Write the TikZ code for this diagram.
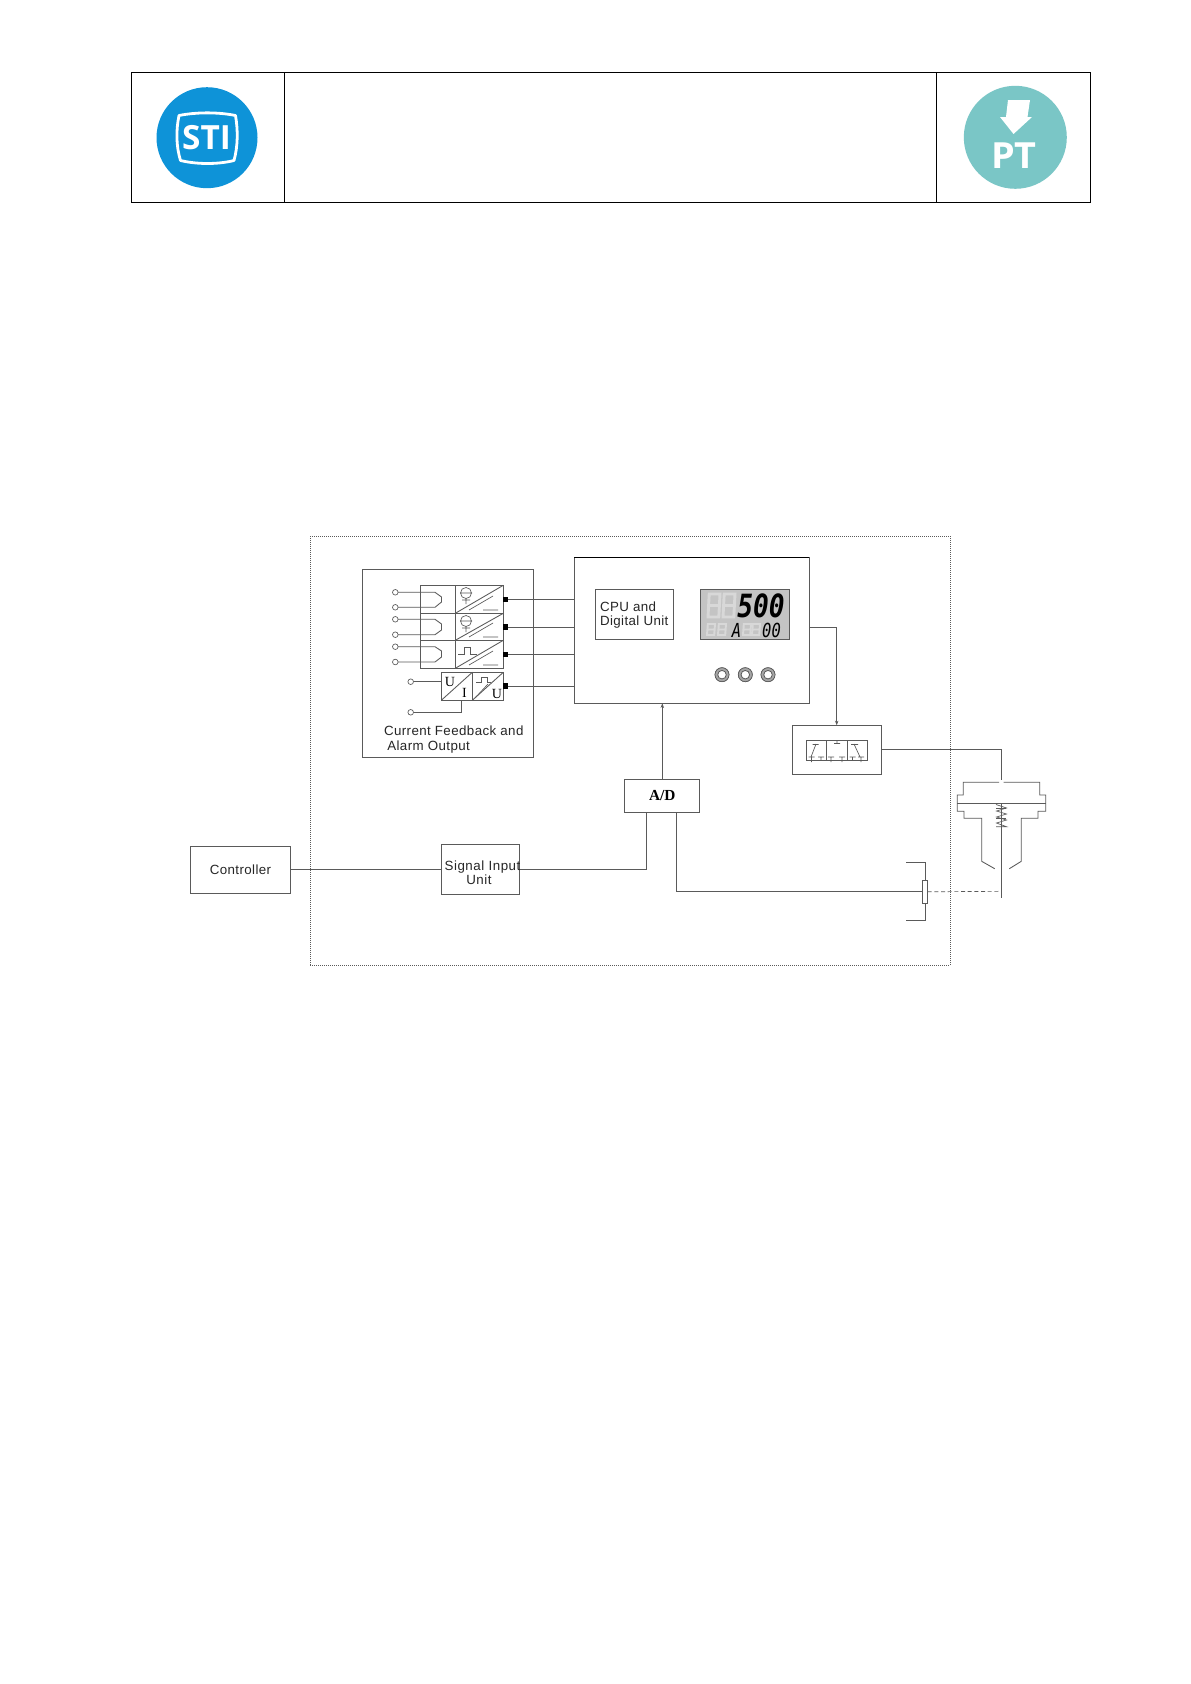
\documentclass[tikz,border=0pt]{standalone}
\usepackage{fontspec}
\setmainfont{Liberation Sans}
\newfontfamily\serifn{Liberation Serif}
\newfontfamily\logof{Open Sans}
\newfontfamily\segf{DejaVu Sans Mono}
\usetikzlibrary{arrows.meta}
\definecolor{stiblue}{HTML}{0E93D8}
\definecolor{ptteal}{HTML}{7AC6C6}
\definecolor{ln}{HTML}{5A5A5A}
\definecolor{lcd}{HTML}{C4C4C4}
\definecolor{ghost}{HTML}{D8D8D8}
\tikzset{
  x=0.75pt,y=-0.75pt,
  cell/.style={draw=black,line width=0.7pt,inner sep=0,outer sep=0},
  boxn/.style={draw=ln,line width=0.65pt,inner sep=0,outer sep=0,align=center,text=black!85},
  wire/.style={draw=ln,line width=0.65pt},
  thin wire/.style={draw=ln,line width=0.5pt},
  dashedbox/.style={draw=ln,line width=0.5pt,densely dotted,inner sep=0,outer sep=0},
  term/.style={circle,draw=ln,line width=0.5pt,fill=white,minimum size=4.2pt,inner sep=0,outer sep=0},
  pad/.style={fill=black,inner sep=0,outer sep=0,minimum size=4pt},
  lab/.style={inner sep=0,outer sep=0,text=black!85,font=\fontsize{10}{12}\selectfont,anchor=base west},
  ser/.style={inner sep=0,outer sep=0,font=\serifn\fontsize{10.5}{12}\selectfont,text=black},
  knob/.style={circle,draw=ln,line width=0.6pt,fill=white,minimum size=6.4pt,inner sep=0,outer sep=0},
  knobring/.style={draw=ln,line width=0.5pt,fill=black!35},
  smalltip/.style={-{Stealth[length=3.5pt,width=2.6pt]}},
}
\newcommand{\boxnode}[6]{% name x1 y1 x2 y2 style
  \node[#6,minimum width={(#4-#2)*0.75pt},minimum height={(#5-#3)*0.75pt}] (#1) at ({(#2+#4)/2},{(#3+#5)/2}) {};}
\newcommand{\gdigit}[4]{% x y w h : ghost eight
  \draw[ghost,line width=#3*0.18pt] (#1+#3*0.1,#2) -- (#1+#3,#2) -- (#1+#3*0.9,#2+#4) -- (#1,#2+#4) -- cycle
   (#1+#3*0.05,#2+#4*0.5) -- (#1+#3*0.95,#2+#4*0.5);}
\begin{document}
\begin{tikzpicture}
\useasboundingbox (0,0) rectangle (1191,1684);
\fill[white] (0,0) rectangle (1191,1684);
% ---------- header table
\boxnode{hdrL}{131.5}{72.5}{284}{202.5}{cell}
\boxnode{hdrM}{284}{72.5}{936}{202.5}{cell}
\boxnode{hdrR}{936}{72.5}{1090}{202.5}{cell}
% STI logo
\fill[stiblue] (207,137.7) circle[radius=50.5];
\draw[white,line width=2.1pt,line join=round]
  (179,115.5) .. controls (197,112) and (218,112) .. (235.5,115.5)
  .. controls (238,130) and (238,146) .. (234,160.5)
  .. controls (218,164.5) and (197,164.5) .. (180.5,160.5)
  .. controls (176,146) and (176,130) .. (179,115.5) -- cycle;
\node[inner sep=0,text=white,font=\logof\bfseries\fontsize{25}{25}\selectfont] (stitxt) at (206.5,137.5) {STI};
% PT logo
\fill[ptteal] (1015.3,137.3) circle[radius=51.5];
\fill[white] (1008,100) -- (1030,100) -- (1027.5,117) -- (1032,117) -- (1013.5,134) -- (1000,117) -- (1006,117) -- cycle;
\node[inner sep=0,text=white,font=\logof\bfseries\fontsize{27}{27}\selectfont,xscale=1.05] (pttxt) at (1014,156) {PT};
% ---------- outer dashed frame
\boxnode{frame}{310.4}{536}{950}{965}{dashedbox}
% ---------- feedback block
\boxnode{fb}{362.3}{569.3}{533.3}{757.3}{boxn}
\boxnode{r1a}{420.3}{585.3}{455.3}{613.3}{boxn}
\boxnode{r1b}{455.3}{585.3}{503.3}{613.3}{boxn}
\boxnode{r2a}{420.3}{613.3}{455.3}{640.3}{boxn}
\boxnode{r2b}{455.3}{613.3}{503.3}{640.3}{boxn}
\boxnode{r3a}{420.3}{640.3}{455.3}{668.3}{boxn}
\boxnode{r3b}{455.3}{640.3}{503.3}{668.3}{boxn}
\boxnode{r4a}{441.3}{672.3}{472.3}{700.3}{boxn}
\boxnode{r4b}{472.3}{672.3}{503.3}{700.3}{boxn}
% diagonals
\draw[wire] (r1b.south west) -- (r1b.north east);
\draw[wire] (r2b.south west) -- (r2b.north east);
\draw[wire] (r3b.south west) -- (r3b.north east);
\draw[wire] (r4a.south west) -- (r4a.north east);
\draw[wire] (r4b.south west) -- (r4b.north east);
% inner strokes
\draw[thin wire] (469,610) -- (493,596) (483,610) -- (498,610);
\draw[thin wire] (469,637) -- (493,623) (483,637) -- (498,637);
\draw[thin wire] (469,665) -- (493,651) (483,665) -- (498,665);
\draw[thin wire] (475,698) -- (488,684);
% sensor symbols
\draw[thin wire] (466,593) circle[radius=5.5] (460,593) -- (472,593) (466,598.5) -- (466,604) (462,600) -- (470,600);
\draw[thin wire] (466,621) circle[radius=5.5] (460,621) -- (472,621) (466,626.5) -- (466,632) (462,628) -- (470,628);
\draw[thin wire] (458,654) -- (464,654) -- (464,647) -- (470,647) -- (470,654) -- (477,654);
\draw[thin wire] (476,682) -- (481,682) -- (481,677) -- (487,677) -- (487,682) -- (491,682);
% terminals
\node[term] (t1) at (395.3,592.3) {};
\node[term] (t2) at (395.3,607.3) {};
\node[term] (t3) at (395.3,619.3) {};
\node[term] (t4) at (395.3,634.7) {};
\node[term] (t5) at (395.3,646.7) {};
\node[term] (t6) at (395.3,662) {};
\node[term] (t7) at (410.7,681.7) {};
\node[term] (t8) at (410.7,712.3) {};
\draw[wire] (t1) -- (435,592.3) -- (441.5,597) -- (441.5,602) -- (435,607.3) -- (t2);
\draw[wire] (t3) -- (435,619.3) -- (441.5,624) -- (441.5,630) -- (435,634.7) -- (t4);
\draw[wire] (t5) -- (435,646.7) -- (441.5,651) -- (441.5,657) -- (435,662) -- (t6);
\draw[wire] (t7) -- (t7 -| r4a.west);
\coordinate (r4foot) at (461.3,700.3);
\draw[wire] (t8) -| (r4foot);
\node[ser] (lU1) at (450,682) {U};
\node[ser] (lI) at (464.5,693) {I};
\node[ser] (lU2) at (497,694) {U};
\node[lab] (fb1) at (384,735) {\addfontfeature{LetterSpace=3}Current Feedback and};
\node[lab] (fb2) at (387.3,750) {\addfontfeature{LetterSpace=3}Alarm Output};
% ---------- main unit
\boxnode{main}{574.3}{557.3}{809.3}{703.3}{boxn}
\draw[black,line width=0.9pt] (main.north west) -- (main.north east);
\boxnode{cpu}{595.3}{589.3}{673.7}{639.3}{boxn}
\node[lab] (cpu1) at (600,611) {\addfontfeature{LetterSpace=3}CPU and};
\node[lab] (cpu2) at (600,625.5) {\addfontfeature{LetterSpace=3}Digital Unit};
\boxnode{lcdp}{700}{589.3}{789.3}{639.3}{boxn}
\fill[lcd] (lcdp.south west) rectangle (lcdp.north east);
\draw[ln,line width=0.65pt] (lcdp.south west) rectangle (lcdp.north east);
\gdigit{708}{594}{12}{23}
\gdigit{723}{594}{12}{23}
\gdigit{707}{624}{8}{11}
\gdigit{718}{624}{8}{11}
\gdigit{743}{624}{8}{11}
\gdigit{752}{624}{8}{11}
\node[inner sep=0,text=black,font=\segf\bfseries\itshape\fontsize{24}{24}\selectfont,xscale=0.82] (big) at (761,605.5) {500};
\node[inner sep=0,text=black,font=\segf\itshape\fontsize{14.5}{14}\selectfont,xscale=0.8] (sma) at (736.5,630) {A};
\node[inner sep=0,text=black,font=\segf\itshape\fontsize{14.5}{14}\selectfont,xscale=0.8] (smb) at (771.5,630) {00};
\fill[knobring] (722,674.7) circle[radius=7];
\fill[knobring] (745.3,674.7) circle[radius=7];
\fill[knobring] (768,674.7) circle[radius=7];
\draw[knobring] (722,674.7) circle[radius=7] (745.3,674.7) circle[radius=7] (768,674.7) circle[radius=7];
\node[knob] (k1) at (722,674.7) {};
\node[knob] (k2) at (745.3,674.7) {};
\node[knob] (k3) at (768,674.7) {};
% output pads and links
\node[pad] (p1) at (505.7,599.7) {};
\node[pad] (p2) at (505.7,627) {};
\node[pad] (p3) at (505.7,654.3) {};
\node[pad] (p4) at (505.7,686) {};
\draw[wire] (p1) -- (p1 -| main.west);
\draw[wire] (p2) -- (p2 -| main.west);
\draw[wire] (p3) -- (p3 -| main.west);
\draw[wire] (p4) -- (p4 -| main.west);
% ---------- solenoid valve
\boxnode{valve}{792.3}{725.3}{881.3}{774.3}{boxn}
\boxnode{v1}{806.3}{740.3}{826.7}{760.3}{boxn}
\boxnode{v2}{826.7}{740.3}{847.3}{760.3}{boxn}
\boxnode{v3}{847.3}{740.3}{867.7}{760.3}{boxn}
\draw[thin wire] (816,744) -- (811,757) (812.5,744.5) -- (818.5,744.5)
  (808.5,757) -- (814.5,757) (811.5,757) -- (811.5,762)
  (818,757) -- (824,757) (821,757) -- (821,760.5)
  (834,743.5) -- (840,743.5) (837,741) -- (837,743.5)
  (828,757) -- (834,757) (831,757) -- (831,762)
  (839,757) -- (845,757) (842,757) -- (842,762)
  (854,744) -- (860,757) (851,744.5) -- (858,744.5)
  (849.5,757) -- (855.5,757) (852.5,757) -- (852.5,760.5)
  (858,757) -- (864,757) (861,757) -- (861,762);
\coordinate (mainOut) at (809.3,627.3);
\coordinate (valveIn) at (836.7,725.3);
\draw[wire,smalltip] (mainOut) -| (valveIn);
% ---------- actuator
\coordinate (actIn) at (1001.3,780);
\draw[wire] (valve.east) -| (actIn);
\draw[wire] (999,782.3) -- (963.3,782.3) -- (963.3,795) -- (957.3,795) -- (957.3,811.3) -- (964,811.3) -- (964,818.3) -- (981.7,818.3) -- (981.7,861.3) -- (994.7,868.7);
\draw[wire] (1003.5,782.3) -- (1039.7,782.3) -- (1039.7,795) -- (1045.7,795) -- (1045.7,811.3) -- (1038,811.3) -- (1038,818.3) -- (1021.3,818.3) -- (1021.3,861.3) -- (1009.3,868.7);
\draw[wire] (957.3,803.3) -- (1045.7,803.3);
\coordinate (stemTop) at (1001.3,803.3);
\coordinate (stemEnd) at (1001.3,898.3);
\draw[wire] (stemTop) -- (stemEnd);
\draw[thin wire] (996,804.5) -- (1006.5,808) -- (996.5,811) -- (1006.5,814) -- (996.5,817) -- (1006.5,820) -- (996.5,823) -- (1006.5,826.7) -- (996,826.7);
\draw[thin wire] (996,808) -- (1006,808) (996,818.5) -- (1006,818.5);
% ---------- potentiometer
\boxnode{pot}{922.3}{880.3}{927.7}{903.3}{boxn}
\coordinate (potTop) at (906,862.3);
\coordinate (potBot) at (906,920.3);
\draw[wire] (potTop) -| (pot.north);
\draw[wire] (potBot) -| (pot.south);
\coordinate (stemTap) at (1001.3,891.3);
\draw[thin wire,densely dashed] (pot.east) -- (stemTap);
% ---------- lower row
\boxnode{ctrl}{190}{846.3}{290.5}{893}{boxn}
\node[lab,anchor=center] (ctrltxt) at (240.5,869.8) {\addfontfeature{LetterSpace=3}Controller};
\boxnode{sig}{441.7}{844.3}{519.7}{894.3}{boxn}
\node[lab,anchor=base] (sig1) at (482.5,870) {\addfontfeature{LetterSpace=4}Signal Input};
\node[lab,anchor=base] (sig2) at (479,884) {\addfontfeature{LetterSpace=4}Unit};
\boxnode{ad}{624.3}{779.3}{699.3}{812.7}{boxn}
\node[inner sep=0,text=black,font=\serifn\bfseries\fontsize{11.5}{12}\selectfont] (adtxt) at (662.3,796) {A/D};
\coordinate (adL) at (646.7,812.7);
\coordinate (adR) at (676.3,812.7);
\coordinate (mainIn) at (662.3,703.3);
\coordinate (adT) at (662.3,779.3);
\draw[wire] (ctrl.east |- sig.west) -- (sig.west);
\draw[wire] (sig.east) -| (adL);
\draw[wire] (adR) |- (pot.west);
\draw[wire,smalltip] (adT) -- (mainIn);
\end{tikzpicture}
\end{document}
